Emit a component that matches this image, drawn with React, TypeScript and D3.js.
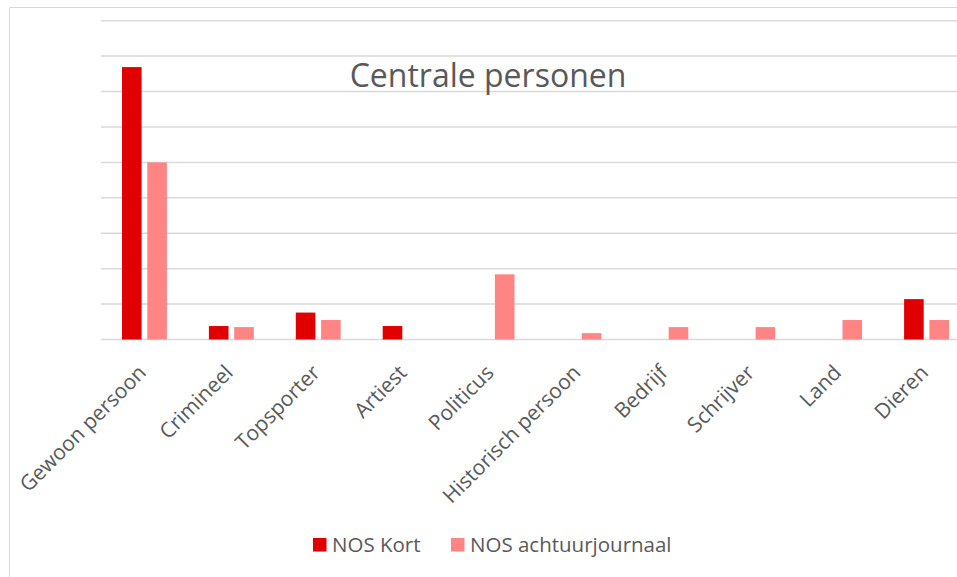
import React from 'react';
import * as d3 from 'd3';

const categories = ['Gewoon persoon', 'Crimineel', 'Topsporter', 'Artiest', 'Politicus', 'Historisch persoon', 'Bedrijf', 'Schrijver', 'Land', 'Dieren'];
const seriesNames = ['NOS Kort', 'NOS achtuurjournaal'];
const nosKort = [76.9, 3.8, 7.6, 3.8, 0, 0, 0, 0, 0, 11.4];
const nosAchtuur = [50.0, 3.5, 5.5, 0, 18.4, 1.8, 3.5, 3.5, 5.5, 5.5];
const gridTicks = [0, 10, 20, 30, 40, 50, 60, 70, 80, 90];

const width = 957;
const height = 577;
const colors = ['#E00000', '#FF8585'];
const textColor = '#595959';
const font = '"Open Sans", sans-serif';

const App = () => {
  const left = 101;
  const step = 86.9;
  const x0 = d3.scaleBand().domain(categories).range([left, left + step * categories.length]);
  const bw = x0.bandwidth();
  const x1 = d3.scaleBand().domain(seriesNames).range([(bw - 44.9) / 2, (bw + 44.9) / 2]).paddingInner(0.225);
  const y = d3.scaleLinear().domain([0, 90]).range([339.5, 20.7]);
  const values = [nosKort, nosAchtuur];

  return (
    <div>
      <style>{'body{margin:0}'}</style>
      <svg width={width} height={height} style={{ display: 'block', background: '#fff' }}>
        <line x1={9.5} x2={width} y1={7.5} y2={7.5} stroke="#D9D9D9" strokeWidth={1} />
        <line x1={9.5} x2={9.5} y1={7.5} y2={height} stroke="#D9D9D9" strokeWidth={1} />

        {gridTicks.map(t => (
          <line key={t} x1={left} x2={width} y1={y(t)} y2={y(t)} stroke="#D9D9D9" strokeWidth={1.5} />
        ))}

        {categories.map((c, i) => (
          <g key={c} transform={`translate(${x0(c)},0)`}>
            {seriesNames.map((s, j) => values[j][i] > 0 && (
              <rect key={s} x={x1(s)} width={x1.bandwidth()} y={y(values[j][i])}
                height={y(0) - y(values[j][i])} fill={colors[j]} />
            ))}
          </g>
        ))}

        {categories.map(c => {
          const cx = (x0(c) as number) + bw / 2;
          return (
            <text key={c} transform={`translate(${cx + 3},${374}) rotate(-45)`} textAnchor="end"
              fontFamily={font} fontSize={21} fill={textColor}>{c}</text>
          );
        })}

        <text x={488} y={87} textAnchor="middle" fontFamily={font} fontSize={32} fill={textColor}>Centrale personen</text>

        <g>
          <rect x={313} y={538} width={13.5} height={13.5} fill={colors[0]} />
          <text x={332} y={551.5} fontFamily={font} fontSize={20.5} fill={textColor}>{seriesNames[0]}</text>
          <rect x={451} y={538} width={13.5} height={13.5} fill={colors[1]} />
          <text x={470} y={551.5} fontFamily={font} fontSize={20.5} fill={textColor}>{seriesNames[1]}</text>
        </g>
      </svg>
    </div>
  );
};

export default App;
